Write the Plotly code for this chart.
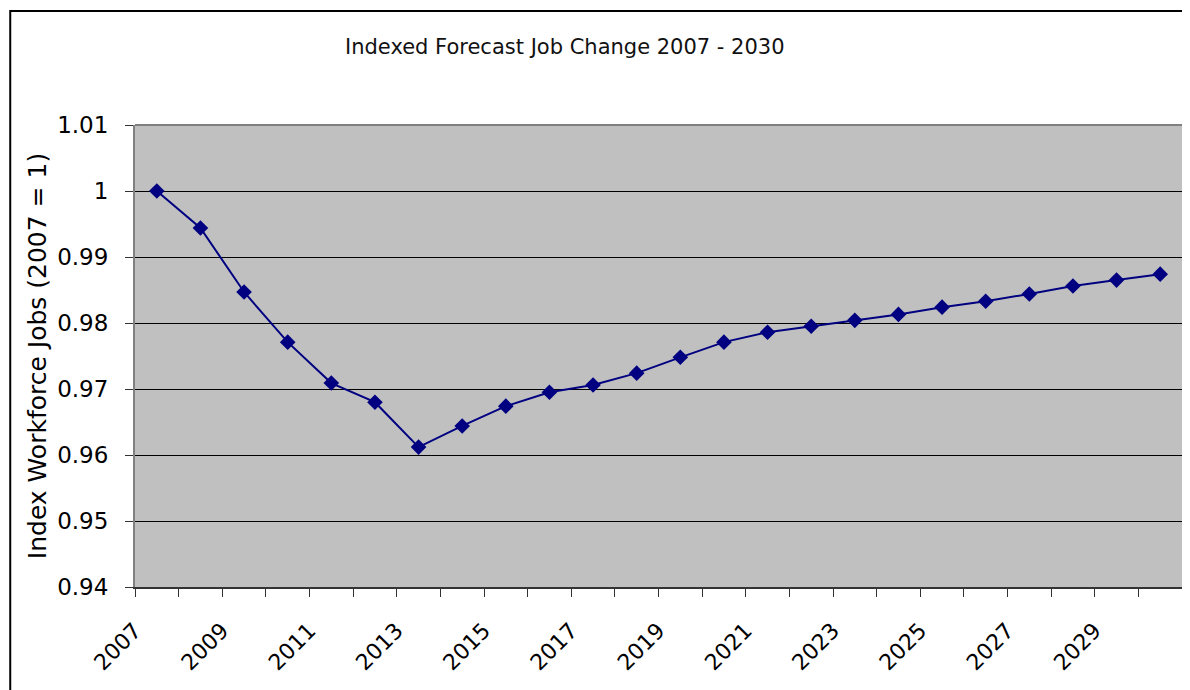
import plotly.graph_objects as go

years = list(range(2007, 2031))
index_values = [1.0000, 0.9944, 0.9847, 0.9771, 0.9709, 0.9680, 0.9612, 0.9644,
                0.9674, 0.9695, 0.9706, 0.9724, 0.9748, 0.9771, 0.9786, 0.9795,
                0.9804, 0.9813, 0.9824, 0.9833, 0.9844, 0.9856, 0.9865, 0.9874]
x_tick_labels = ["2007", "2009", "2011", "2013", "2015", "2017",
                 "2019", "2021", "2023", "2025", "2027", "2029"]
y_tick_values = [0.94, 0.95, 0.96, 0.97, 0.98, 0.99, 1.00, 1.01]
y_tick_labels = ["0.94", "0.95", "0.96", "0.97", "0.98", "0.99", "1", "1.01"]

FONT = "DejaVu Sans"
OFF = 8  # page body margin
W, H = 1190 - OFF, 690 - OFF
L, R, T, B = 135 - OFF, 6, 125 - OFF, 103
pw, ph = W - L - R, H - T - B

def px_x(page_x):
    return (page_x - OFF - L) / pw

def px_y(page_y):
    return (H - B - (page_y - OFF)) / ph

# category boundaries (ticks) and labels on every other boundary
bounds = [y - 0.5 for y in years] + [years[-1] + 0.5]
ticktext = []
for i, b in enumerate(bounds):
    if i % 2 == 0 and i // 2 < len(x_tick_labels):
        ticktext.append(x_tick_labels[i // 2])
    else:
        ticktext.append("")

fig = go.Figure()
fig.add_trace(go.Scatter(
    x=years, y=index_values, mode="lines+markers",
    line=dict(color="#000080", width=2),
    marker=dict(symbol="diamond", size=12, color="#000080"),
    showlegend=False, cliponaxis=False,
))

fig.update_layout(
    width=W, height=H,
    margin=dict(l=L, r=R, t=T, b=B),
    paper_bgcolor="white", plot_bgcolor="#C0C0C0",
    font=dict(family=FONT, color="black"),
    xaxis=dict(range=[bounds[0], bounds[-1]], tickmode="array",
               tickvals=bounds, ticktext=ticktext, tickangle=-45,
               ticks="outside", ticklen=8, tickcolor="#333", tickwidth=1,
               ticklabelstandoff=12,
               showgrid=False, zeroline=False,
               showline=True, linecolor="#333", linewidth=2,
               tickfont=dict(family=FONT, size=22, color="black")),
    yaxis=dict(range=[0.94, 1.01], tickmode="array",
               tickvals=y_tick_values, ticktext=y_tick_labels,
               ticks="outside", ticklen=8, tickcolor="#333", tickwidth=1,
               ticklabelstandoff=12,
               showgrid=True, gridcolor="black", gridwidth=1,
               zeroline=False, showline=True, linecolor="#808080",
               linewidth=2, mirror=True,
               tickfont=dict(family=FONT, size=23, color="black")),
    shapes=[
        dict(type="line", xref="paper", yref="paper", x0=0, x1=1, y0=1, y1=1,
             line=dict(color="#808080", width=2)),
        dict(type="rect", xref="paper", yref="paper",
             x0=px_x(10), x1=px_x(1220),
             y0=px_y(720), y1=px_y(11),
             line=dict(color="black", width=2), layer="below"),
    ],
    annotations=[
        dict(text="Indexed Forecast Job Change 2007 - 2030",
             xref="paper", yref="paper", x=px_x(566), y=px_y(47),
             xanchor="center", yanchor="middle", showarrow=False,
             font=dict(family=FONT, size=21, color="#111")),
        dict(text="Index Workforce Jobs (2007 = 1)", textangle=-90,
             xref="paper", yref="paper", x=px_x(37), y=0.5,
             xanchor="center", yanchor="middle", showarrow=False,
             font=dict(family=FONT, size=25, color="black")),
    ],
)

fig.write_html("out.html")
